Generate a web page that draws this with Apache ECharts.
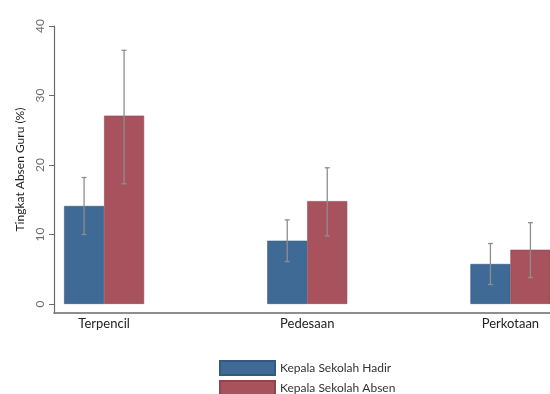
<!DOCTYPE html>
<html>
<head>
<meta charset="utf-8">
<script src="https://cdn.jsdelivr.net/npm/echarts@6/dist/echarts.min.js"></script>
<style>
  html, body { margin: 0; padding: 0; background: #fff; }
  #chart { width: 550px; height: 394px; }
</style>
</head>
<body>
<div id="chart"></div>
<script>
// Teacher absence rate (%) by location, split by whether the principal was present
const categories = ['Terpencil', 'Pedesaan', 'Perkotaan'];
const seriesNames = ['Kepala Sekolah Hadir', 'Kepala Sekolah Absen'];
const hadirValues = [14.1, 9.1, 5.75];
const absenValues = [27.1, 14.8, 7.8];
// 95% confidence bounds [low, high]
const hadirCI = [[10.0, 18.2], [6.1, 12.1], [2.8, 8.7]];
const absenCI = [[17.3, 36.5], [9.8, 19.6], [3.8, 11.7]];
const yTicks = [0, 10, 20, 30, 40];

const FONT = 'Lato, "Open Sans", sans-serif';
const BAR_W = 40;
const COLORS = ['#3f6a96', '#a8525e'];
const ERR_COLOR = '#8e8e8e';

// error bars drawn over the bars; side -1 = left bar, +1 = right bar
function errorSeries(ci, side) {
  return {
    type: 'custom',
    xAxisIndex: 0,
    yAxisIndex: 0,
    z: 10,
    silent: true,
    data: ci.map((d, i) => [i, d[0], d[1]]),
    renderItem: function (params, api) {
      const lo = api.coord([api.value(0), api.value(1)]);
      const hi = api.coord([api.value(0), api.value(2)]);
      const x = lo[0] + side * BAR_W / 2;
      const cap = 2.5;
      const style = { stroke: ERR_COLOR, lineWidth: 1.3 };
      return {
        type: 'group',
        children: [
          { type: 'line', shape: { x1: x, y1: lo[1], x2: x, y2: hi[1] }, style: style },
          { type: 'line', shape: { x1: x - cap, y1: hi[1], x2: x + cap, y2: hi[1] }, style: style },
          { type: 'line', shape: { x1: x - cap, y1: lo[1], x2: x + cap, y2: lo[1] }, style: style }
        ]
      };
    }
  };
}

const chart = echarts.init(document.getElementById('chart'), null, { renderer: 'canvas' });

const Y_MIN = -1.3, Y_MAX = 40;

chart.setOption({
  animation: false,
  backgroundColor: '#ffffff',
  textStyle: { fontFamily: FONT },
  grid: [
    // bars: category bands of ~203px, running past the right edge
    { left: 2.5, width: 609.5, top: 26, bottom: 81, outerBoundsMode: 'none' },
    // axes frame
    { left: 54, right: 0, top: 26, bottom: 81, outerBoundsMode: 'none' }
  ],
  xAxis: [
    {
      type: 'category',
      gridIndex: 0,
      data: categories,
      axisLine: { show: false, onZero: false },
      axisTick: { show: false },
      axisLabel: { color: '#222', fontSize: 13, fontFamily: FONT, margin: 4 }
    },
    {
      type: 'value',
      gridIndex: 1,
      min: 0,
      max: 1,
      axisLine: { show: true, onZero: false, lineStyle: { color: '#6a6a6a', width: 1.5 } },
      axisTick: { show: false },
      axisLabel: { show: false },
      splitLine: { show: false }
    }
  ],
  yAxis: [
    {
      type: 'value',
      gridIndex: 0,
      min: Y_MIN,
      max: Y_MAX,
      show: false,
      splitLine: { show: false }
    },
    {
      type: 'value',
      gridIndex: 1,
      min: Y_MIN,
      max: Y_MAX,
      name: 'Tingkat Absen Guru (%)',
      nameLocation: 'middle',
      nameGap: 25,
      nameTextStyle: { color: '#222', fontSize: 12, fontFamily: FONT },
      axisLine: { show: true, onZero: false, lineStyle: { color: '#6a6a6a', width: 1.2 } },
      axisTick: { show: true, length: 5, customValues: yTicks, lineStyle: { color: '#6a6a6a' } },
      axisLabel: {
        customValues: yTicks,
        rotate: 90,
        color: '#6d6d6d',
        fontSize: 12,
        fontFamily: FONT,
        margin: 8
      },
      splitLine: { show: false }
    }
  ],
  legend: {
    data: seriesNames,
    orient: 'vertical',
    left: 219,
    top: 360,
    height: 80,
    padding: 0,
    itemWidth: 55,
    itemHeight: 14,
    itemGap: 4,
    icon: 'rect',
    textStyle: { color: '#333', fontSize: 12, fontFamily: FONT }
  },
  series: [
    {
      name: seriesNames[0],
      type: 'bar',
      xAxisIndex: 0,
      yAxisIndex: 0,
      data: hadirValues,
      barWidth: BAR_W,
      barGap: '0%',
      itemStyle: { color: COLORS[0], borderColor: '#34597e', borderWidth: 0.6 }
    },
    {
      name: seriesNames[1],
      type: 'bar',
      xAxisIndex: 0,
      yAxisIndex: 0,
      data: absenValues,
      barWidth: BAR_W,
      barGap: '0%',
      itemStyle: { color: COLORS[1], borderColor: '#8e4550', borderWidth: 0.6 }
    },
    errorSeries(hadirCI, -1),
    errorSeries(absenCI, 1)
  ]
});
</script>
</body>
</html>
